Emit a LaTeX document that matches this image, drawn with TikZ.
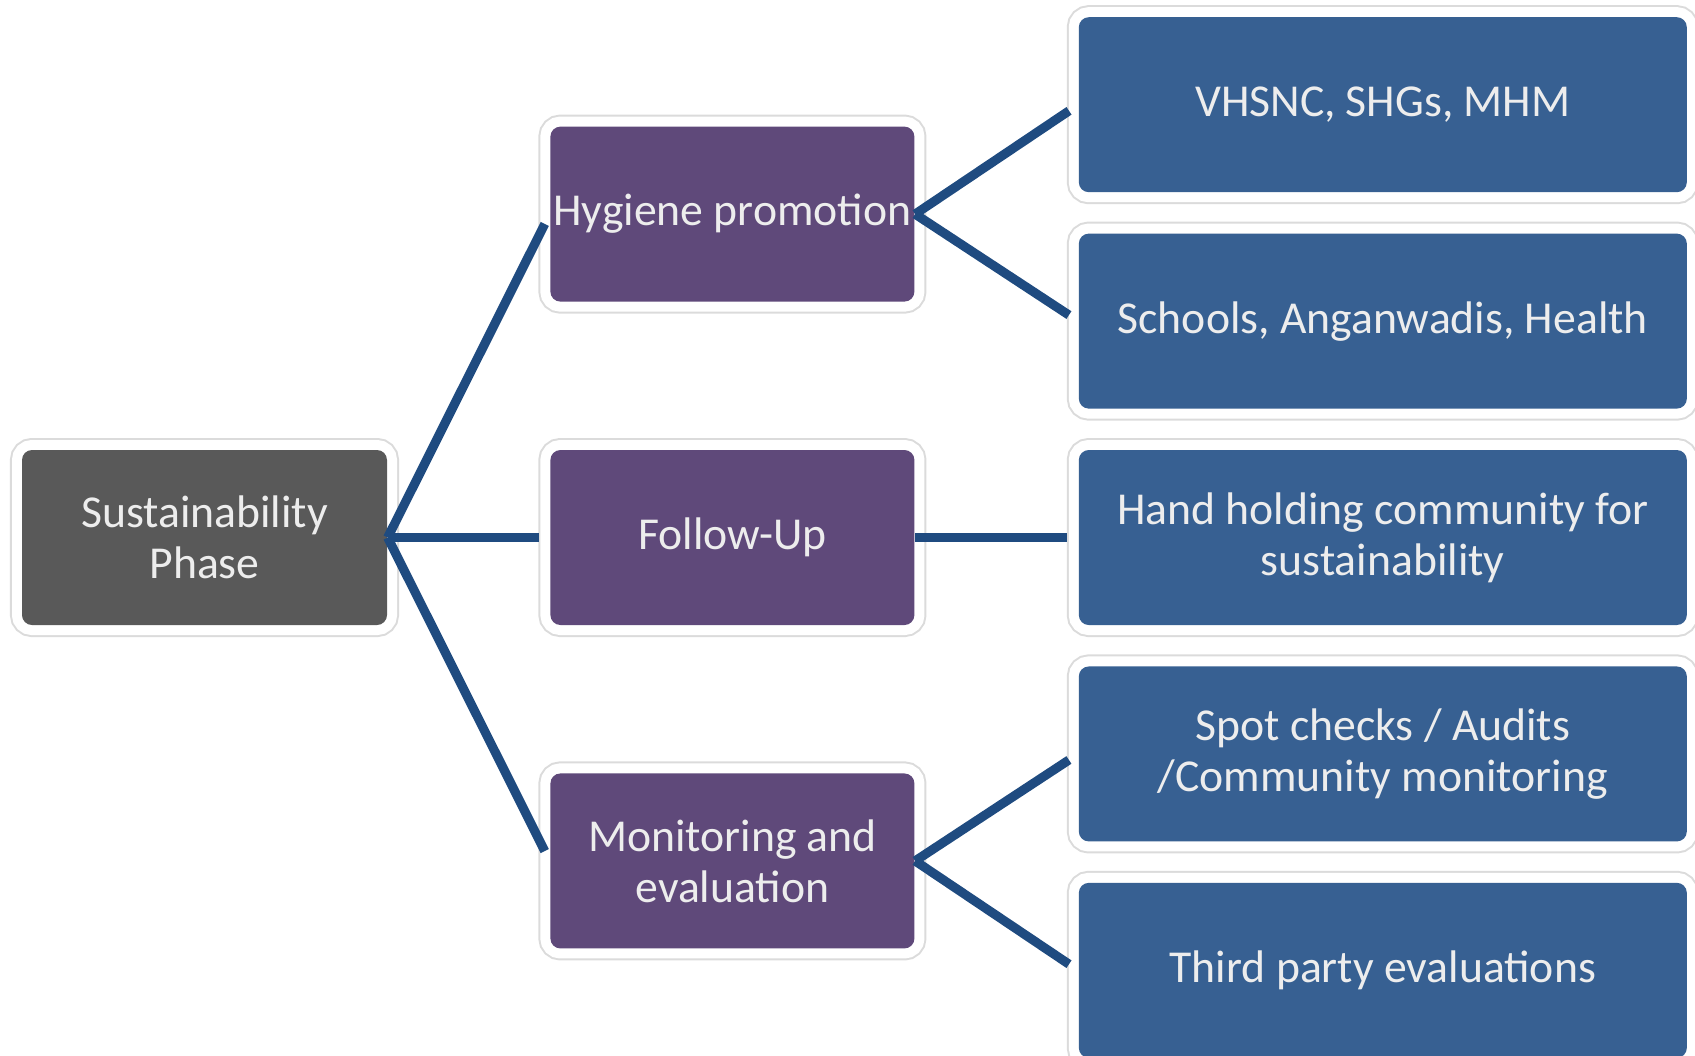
\documentclass[tikz,border=0pt]{standalone}
\usepackage{fontspec}
\setmainfont{Carlito}
\usetikzlibrary{positioning}
\definecolor{phasegray}{HTML}{595959}
\definecolor{stagepurple}{HTML}{5F497A}
\definecolor{taskblue}{HTML}{376092}
\definecolor{linkblue}{HTML}{1F4B80}

\begin{document}
\begin{tikzpicture}[inner sep=0pt,node distance=1.62cm,
  boxbase/.style={rounded corners=0.1cm,align=center,text=white!93!black,
    font=\fontsize{13}{14.5}\selectfont,minimum height=1.75cm,
    preaction={draw=black!14,line width=0.24cm},
    preaction={draw=white,line width=0.2cm}},
  hub/.style={boxbase,fill=phasegray,minimum width=3.65cm},
  stage/.style={boxbase,fill=stagepurple,minimum width=3.64cm},
  task/.style={boxbase,fill=taskblue,minimum width=6.08cm},
  link/.style={draw=linkblue,line width=2.6pt,shorten >=0.11cm}]
\useasboundingbox (0,0) rectangle (16.95,-10.55);
\node [hub] (phase) at (2.045,-5.375) {Sustainability\\Phase};
\node [stage] [right=of phase] (follow) {Follow-Up};
\node [stage] [above=1.47cm of follow] (hygiene) {Hygiene promotion};
\node [stage] [below=1.47cm of follow] (monitor) {Monitoring and\\evaluation};
\node [task] [right=1.63cm of follow] (hand) {Hand holding community for\\sustainability};
\node [task] [above=0.4cm of hand] (schools) {Schools, Anganwadis, Health};
\node [task] [above=0.4cm of schools] (vhsnc) {VHSNC, SHGs, MHM};
\node [task] [below=0.4cm of hand] (spot) {Spot checks / Audits\\/Community monitoring};
\node [task] [below=0.4cm of spot] (third) {Third party evaluations};
\foreach \s in {hygiene,follow,monitor}
  \draw [link] (phase.east) -- (\s.west);
\draw [link] (hygiene.east) -- (vhsnc.west);
\draw [link] (hygiene.east) -- (schools.west);
\draw [link] (follow.east) -- (hand.west);
\draw [link] (monitor.east) -- (spot.west);
\draw [link] (monitor.east) -- (third.west);
\end{tikzpicture}
\end{document}
